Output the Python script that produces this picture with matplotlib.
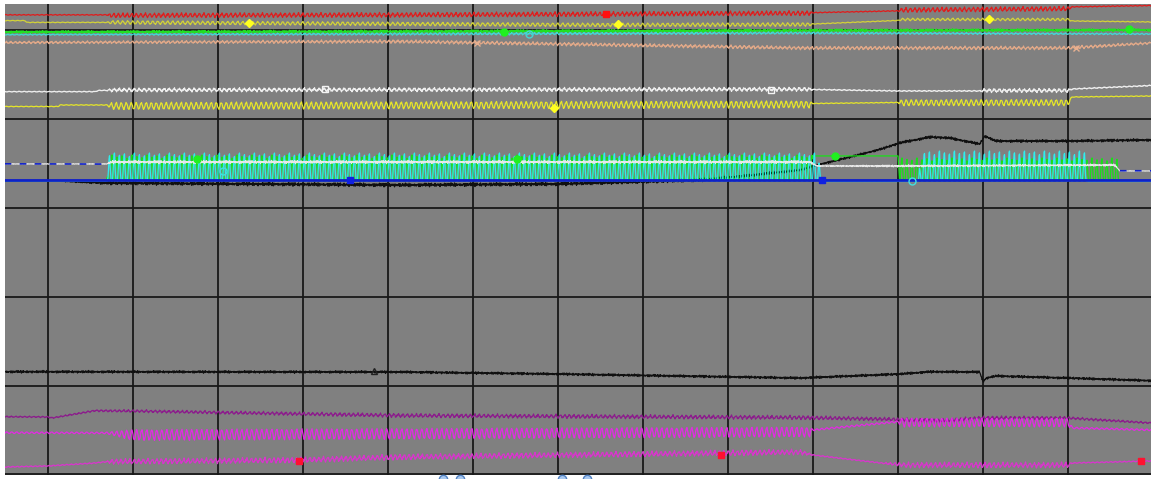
"""
Scope capture: 14 traces on a grey graticule (x and y in divisions)
"""

import numpy as np
import matplotlib
matplotlib.use('Agg')
import matplotlib.pyplot as plt

# ============= data (divisions) =============

X_MIN, X_MAX = -0.506, 12.976
Y_MIN, Y_MAX = -0.006, 5.292
STEP = 1 / 170                      # one sample per half pixel

# one cycle of each ripple shape
ZIGZAG = [0.0, 0.7, 1.0, 0.55, -0.2, -0.85, -1.0, -0.6, -0.05]
WAVE10 = [0.0, 0.6, 0.95, 1.0, 0.55, -0.05, -0.6, -0.95, -1.0, -0.55]
JITTER = [0.3, -0.6, 0.8, -0.2, -0.9, 0.5, 0.1, -0.4, 0.9, -0.7, 0.2, 0.6, -0.8]
JITTER7 = [0.5, -0.3, -0.9, 0.7, 0.2, -0.6, 0.4]
SPIKE = [0.0, 0.3, 0.65, 0.95, 1.0, 0.6, 0.25, 0.05, 0.0, 0.0]
PEAK_VAR = [1.0, 0.92, 0.97, 0.88, 1.0, 0.94, 0.9]

# --- top group ---
RED_X = [-0.51, 0.69, 0.75, 4.14, 8.96, 9.00, 10.00, 10.04, 12.00, 12.05, 12.98]
RED_LEVEL = [5.17, 5.17, 5.165, 5.17, 5.19, 5.195, 5.215, 5.225, 5.24, 5.26, 5.275]
RED_AMP = [0.004, 0.004, 0.022, 0.022, 0.022, 0.004, 0.004, 0.022, 0.022, 0.004, 0.004]

YEL1_X = [-0.51, -0.27, -0.25, 0.69, 0.75, 6.56, 8.96, 9.00, 10.00, 10.04, 12.00, 12.05, 12.98]
YEL1_LEVEL = [5.105, 5.105, 5.085, 5.085, 5.085, 5.056, 5.062, 5.067, 5.107, 5.118, 5.118, 5.101, 5.09]
YEL1_AMP = [0.003, 0.003, 0.003, 0.003, 0.017, 0.017, 0.017, 0.003, 0.003, 0.012, 0.012, 0.003, 0.003]

GRN1_X = [-0.51, 4.14, 8.85, 12.98]
GRN1_LEVEL = [4.977, 4.983, 4.994, 5.0]
GRN1_AMP = [0.012, 0.014, 0.014, 0.012]

CYN1_X = [-0.51, 4.14, 8.85, 12.98]
CYN1_LEVEL = [4.947, 4.955, 4.966, 4.955]
CYN1_AMP = [0.004, 0.01, 0.01, 0.006]

TAN_X = [-0.51, 4.14, 6.0, 8.85, 12.0, 12.98]
TAN_LEVEL = [4.859, 4.871, 4.843, 4.798, 4.798, 4.854]
TAN_AMP = [0.01, 0.014, 0.014, 0.014, 0.014, 0.01]

WHT1_X = [-0.51, 0.55, 0.60, 0.69, 0.75, 8.96, 9.00, 10.00, 10.96, 11.00, 12.00, 12.05, 12.98]
WHT1_LEVEL = [4.306, 4.306, 4.32, 4.32, 4.325, 4.333, 4.33, 4.314, 4.314, 4.319, 4.319, 4.336, 4.375]
WHT1_AMP = [0.003, 0.003, 0.003, 0.003, 0.014, 0.014, 0.004, 0.004, 0.004, 0.014, 0.014, 0.004, 0.004]

YEL2_X = [-0.51, 0.12, 0.14, 0.69, 0.75, 8.96, 9.00, 10.00, 10.04, 12.00, 12.05, 12.98]
YEL2_LEVEL = [4.139, 4.139, 4.156, 4.156, 4.145, 4.162, 4.173, 4.184, 4.182, 4.182, 4.246, 4.257]
YEL2_AMP = [0.003, 0.003, 0.003, 0.003, 0.035, 0.035, 0.003, 0.003, 0.03, 0.03, 0.003, 0.003]

# --- middle group ---
BLUE_X = [-0.51, 12.98]
BLUE_LEVEL = [3.307, 3.307]

WHT2_X = [-0.51, 0.69, 0.75, 8.96, 9.05, 10.00, 12.55, 12.61, 12.98]
WHT2_LEVEL = [3.493, 3.493, 3.515, 3.515, 3.470, 3.470, 3.481, 3.414, 3.414]
WHT2_AMP = [0.003, 0.003, 0.014, 0.014, 0.005, 0.01, 0.01, 0.003, 0.003]
BLUE_REF_X = [[-0.51, 0.69], [12.61, 12.98]]

BLK1_X = [-0.51, 0.12, 0.69, 4.14, 6.0, 7.67, 8.2, 8.6, 8.85, 9.0, 9.44, 9.8, 10.02,
          10.38, 10.61, 10.96, 11.02, 11.15, 12.0, 12.98]
BLK1_LEVEL = [3.301, 3.301, 3.279, 3.256, 3.268, 3.313, 3.358, 3.40, 3.425, 3.47, 3.572,
              3.66, 3.730, 3.796, 3.785, 3.717, 3.807, 3.751, 3.751, 3.763]
BLK1_AMP = [0.003, 0.003, 0.015, 0.016, 0.016, 0.015, 0.013, 0.012, 0.01, 0.01, 0.01,
            0.01, 0.012, 0.012, 0.012, 0.012, 0.012, 0.012, 0.012, 0.012]

GRN2_X = [-0.51, 0.69, 0.72, 8.98, 9.00, 10.00, 10.02, 12.60, 12.62, 12.98]
GRN2_BASE = [3.301, 3.301, 3.301, 3.301, 3.583, 3.583, 3.301, 3.301, 3.301, 3.301]
GRN2_HEIGHT = [0.0, 0.0, 0.292, 0.292, 0.0, 0.0, 0.259, 0.259, 0.0, 0.0]

CYN2_X = [-0.51, 0.69, 0.72, 9.06, 9.10, 10.24, 10.27, 12.20, 12.23, 12.98]
CYN2_BASE = [3.301, 3.301, 3.301, 3.301, 3.296, 3.296, 3.301, 3.301, 3.296, 3.296]
CYN2_HEIGHT = [0.0, 0.0, 0.315, 0.315, 0.0, 0.0, 0.337, 0.337, 0.0, 0.0]

# --- bottom group ---
BLK2_X = [-0.51, 4.14, 6.0, 8.85, 10.02, 10.38, 10.96, 11.0, 11.04, 11.15, 12.0, 12.98]
BLK2_LEVEL = [1.156, 1.153, 1.130, 1.085, 1.130, 1.156, 1.153, 1.044, 1.085, 1.108, 1.085, 1.055]
BLK2_AMP = [0.011] * len(BLK2_X)

PUR_X = [-0.51, 0.0, 0.05, 0.55, 1.0, 4.14, 8.85, 9.8, 10.5, 11.0, 12.0, 12.98]
PUR_LEVEL = [0.650, 0.647, 0.636, 0.718, 0.714, 0.664, 0.641, 0.624, 0.605, 0.636, 0.636, 0.579]
PUR_AMP = [0.006, 0.006, 0.006, 0.008, 0.012, 0.017, 0.017, 0.015, 0.015, 0.017, 0.012, 0.008]

MAG_X = [-0.51, 0.69, 1.0, 8.96, 9.00, 10.00, 10.04, 12.00, 12.05, 12.98]
MAG_LEVEL = [0.470, 0.467, 0.444, 0.478, 0.501, 0.594, 0.585, 0.585, 0.523, 0.501]
MAG_AMP = [0.009, 0.009, 0.056, 0.05, 0.009, 0.009, 0.045, 0.045, 0.009, 0.009]

PNK_X = [-0.51, 0.0, 0.55, 0.69, 0.75, 2.96, 4.14, 8.85, 9.0, 9.8, 10.1, 12.0, 12.05, 12.98]
PNK_LEVEL = [0.084, 0.096, 0.129, 0.144, 0.146, 0.163, 0.197, 0.253, 0.219, 0.129, 0.107, 0.107, 0.129, 0.152]
PNK_AMP = [0.005, 0.005, 0.005, 0.005, 0.025, 0.025, 0.025, 0.025, 0.005, 0.005, 0.025, 0.025, 0.005, 0.005]

# cursor markers (x in divisions)
RED_MARK = [6.56]
YEL1_MARK = [2.36, 6.71, 11.07]
GRN1_MARK = [5.36, 12.72]
CYN1_MARK = [5.66]
TAN_MARK = [5.05, 12.09]
WHT1_MARK = [3.26, 8.51]
YEL2_MARK = [5.95]
GRN2_MARK = [1.75, 5.52, 9.26]
CYN2_MARK = [2.06, 10.16]
BLUE_MARK = [3.55, 9.11]
BLK2_MARK = [3.84]
PNK_MARK = [2.95, 7.92, 12.86]
HANDLE_X = [4.65, 4.85, 6.05, 6.34]

# ============= build traces =============

T = np.arange(X_MIN, X_MAX, STEP)


def pattern(values, shift=0):
    return np.resize(np.roll(np.asarray(values, float), shift), T.size)


def ripple(xk, level, amp, wave, noise=0.3, shift=0):
    base = np.interp(T, xk, level)
    a = np.interp(T, xk, amp)
    return base + a * (pattern(wave, shift) + noise * pattern(JITTER, shift))


def noisy(xk, level, amp, shift=0):
    base = np.interp(T, xk, level)
    a = np.interp(T, xk, amp)
    return base + a * (pattern(JITTER, shift) + 0.6 * pattern(JITTER7, shift))


def spikes(xk, base, height, shift=0):
    b = np.interp(T, xk, base)
    h = np.interp(T, xk, height)
    var = np.resize(np.repeat(PEAK_VAR, len(SPIKE)), T.size)
    return b + h * pattern(SPIKE, shift) * var


red = ripple(RED_X, RED_LEVEL, RED_AMP, ZIGZAG)
yel1 = ripple(YEL1_X, YEL1_LEVEL, YEL1_AMP, WAVE10, shift=3)
grn1 = noisy(GRN1_X, GRN1_LEVEL, GRN1_AMP, shift=2)
cyn1 = ripple(CYN1_X, CYN1_LEVEL, CYN1_AMP, ZIGZAG, noise=0.6, shift=4)
tan = ripple(TAN_X, TAN_LEVEL, TAN_AMP, ZIGZAG, noise=0.6, shift=1)
wht1 = ripple(WHT1_X, WHT1_LEVEL, WHT1_AMP, WAVE10, noise=0.8, shift=6)
yel2 = ripple(YEL2_X, YEL2_LEVEL, YEL2_AMP, WAVE10, noise=0.2)

blue = np.interp(T, BLUE_X, BLUE_LEVEL)
wht2 = noisy(WHT2_X, WHT2_LEVEL, WHT2_AMP, shift=5)
blk1 = noisy(BLK1_X, BLK1_LEVEL, BLK1_AMP)
grn2 = spikes(GRN2_X, GRN2_BASE, GRN2_HEIGHT)
cyn2 = spikes(CYN2_X, CYN2_BASE, CYN2_HEIGHT, shift=5)

blk2 = noisy(BLK2_X, BLK2_LEVEL, BLK2_AMP, shift=3)
pur = ripple(PUR_X, PUR_LEVEL, PUR_AMP, ZIGZAG, noise=0.5, shift=2)
mag = ripple(MAG_X, MAG_LEVEL, MAG_AMP, WAVE10, noise=0.15, shift=1)
pnk = ripple(PNK_X, PNK_LEVEL, PNK_AMP, ZIGZAG, noise=0.4, shift=5)

# ============= draw =============

fig = plt.figure(figsize=(11.51, 4.79), dpi=100, facecolor='white')
ax = fig.add_axes([5 / 1151, 4 / 479, 1146 / 1151, 471 / 479])
ax.set_facecolor('#808080')
ax.set_xlim(X_MIN, X_MAX)
ax.set_ylim(Y_MIN, Y_MAX)
for s in ax.spines.values():
    s.set_visible(False)
ax.set_xticks([])
ax.set_yticks([])

# graticule
for gx in range(0, 13):
    ax.axvline(gx, color='#181818', lw=1.3, zorder=1)
for gy in range(0, 6):
    ax.axhline(gy, color='#181818', lw=1.3, zorder=1)

LW = 0.9
traces = [
    (red, '#e01c1c'), (yel1, '#d2d238'), (grn1, '#22e022'), (cyn1, '#44d4d4'),
    (tan, '#e0a888'), (wht1, '#eeeeee'), (yel2, '#e6e628'),
    (blk2, '#101010'), (pur, '#8c1c8c'), (mag, '#e42ae4'), (pnk, '#d836cc'),
    (blk1, '#101010'),
]
for y, c in traces:
    ax.plot(T, y, color=c, lw=LW, zorder=3)

# tall burst traces
ax.plot(T, grn2, color='#18e018', lw=0.9, zorder=3)
ax.plot(T, cyn2, color='#30ecec', lw=0.9, zorder=3)
ax.plot(T, wht2, color='#e8e8e8', lw=0.8, zorder=3)

ax.plot(T, blue, color='#1020c8', lw=2.0, zorder=4)
for seg in BLUE_REF_X:
    ax.plot(seg, np.interp(seg, T, wht2), color='#1020c8', lw=1.2,
            dashes=(4, 5), zorder=5)


def marks(xs, y, **kw):
    ax.plot(xs, np.interp(xs, T, y), ls='none', zorder=6, **kw)


marks(RED_MARK, red, marker='s', ms=5, color='#ff1010')
marks(YEL1_MARK, yel1, marker='D', ms=4, color='#ffff20')
marks(GRN1_MARK, grn1, marker='o', ms=5, color='#20f020')
marks(CYN1_MARK, cyn1, marker='o', ms=5, mfc='none', mec='#44d4d4')
marks(TAN_MARK, tan, marker='x', ms=5, color='#e8b090')
marks(WHT1_MARK, wht1, marker='s', ms=5, mfc='none', mec='#f4f4f4')
marks(YEL2_MARK, yel2, marker='D', ms=4, color='#ffff20')
marks(GRN2_MARK, grn2, marker='o', ms=5, color='#20f020')
marks(CYN2_MARK, cyn2, marker='o', ms=5, mfc='none', mec='#40e0e0')
marks(BLUE_MARK, blue, marker='s', ms=4, color='#1020e0')
marks(BLK2_MARK, blk2, marker='^', ms=5, mfc='none', mec='#202020')
marks(PNK_MARK, pnk, marker='s', ms=5, color='#ff1030')

# cursor handles peeking out under the screen
ax.plot(HANDLE_X, [Y_MIN - 0.04] * len(HANDLE_X), ls='none', marker='o', ms=6,
        mfc='#a8c8f0', mec='#5080c0', clip_on=False, zorder=7)

fig.savefig('out.png', dpi=100, facecolor='white')
